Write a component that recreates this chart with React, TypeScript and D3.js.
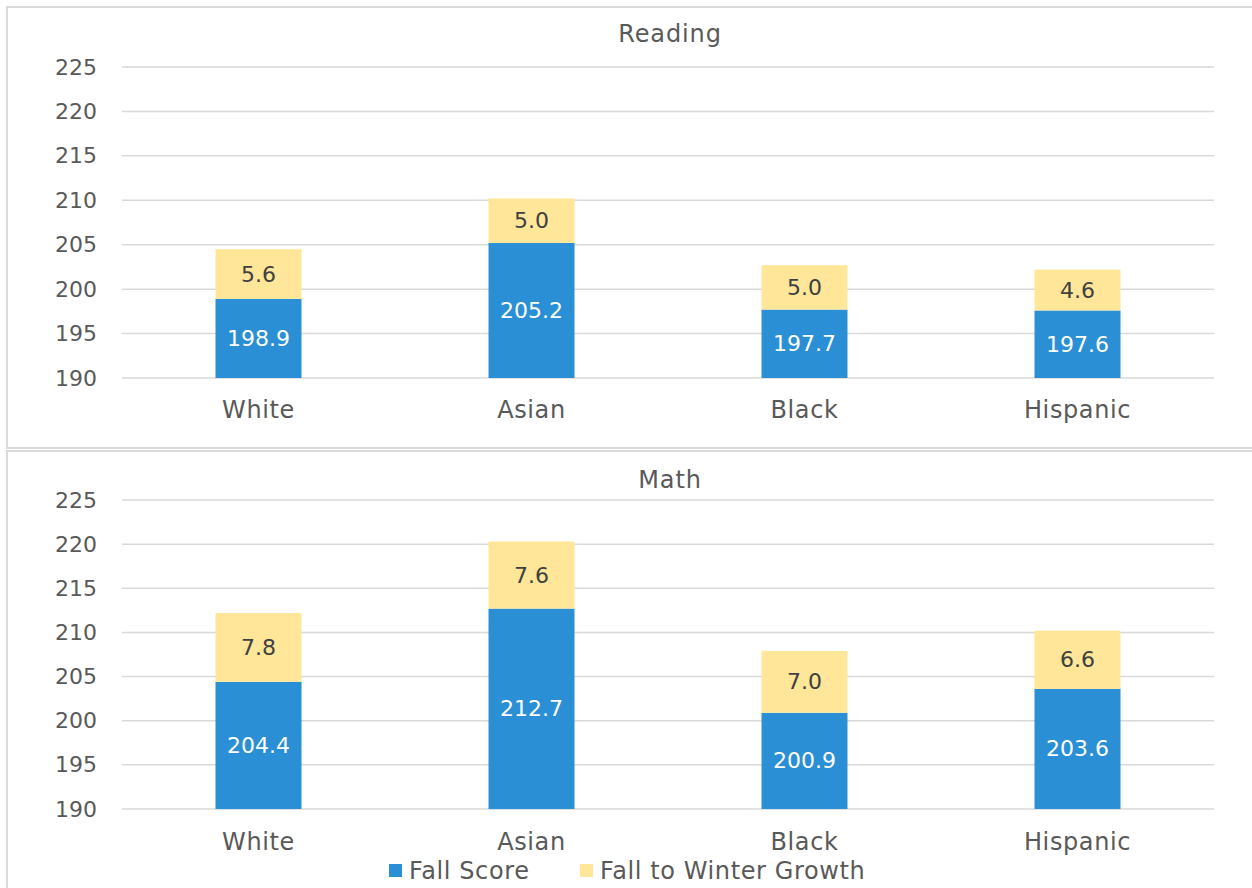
import React from "react";
import * as d3 from "d3";

const groups = ["White", "Asian", "Black", "Hispanic"];
const readingFall = [198.9, 205.2, 197.7, 197.6];
const readingGrowth = [5.6, 5.0, 5.0, 4.6];
const mathFall = [204.4, 212.7, 200.9, 203.6];
const mathGrowth = [7.8, 7.6, 7.0, 6.6];
const yTicks = [190, 195, 200, 205, 210, 215, 220, 225];
const seriesNames = ["Fall Score", "Fall to Winter Growth"];

const W = 1252;
const H = 888;
const BLUE = "#2A8FD4";
const YELLOW = "#FFE699";
const TEXT = "#595959";
const GRID = "#D9D9D9";
const FONT = "'DejaVu Sans', sans-serif";

type PanelProps = {
  title: string;
  fall: number[];
  growth: number[];
  titleY: number;
  yTop: number;
  yBottom: number;
  catY: number;
};

const x = d3.scaleBand<string>().domain(groups).range([122, 1214]).paddingInner(0.685).paddingOuter(0.3425);

function Panel({ title, fall, growth, titleY, yTop, yBottom, catY }: PanelProps) {
  const y = d3.scaleLinear().domain([190, 225]).range([yBottom, yTop]);
  const [x0, x1] = x.range();
  return (
    <g>
      <text x={(x0 + x1) / 2 + 2} y={titleY} textAnchor="middle" dominantBaseline="central" fontSize={24} letterSpacing={0.9} fill={TEXT}>
        {title}
      </text>
      {yTicks.map((t) => (
        <g key={t}>
          <line x1={x0} x2={x1} y1={y(t)} y2={y(t)} stroke={GRID} strokeWidth={1.5} />
          <text x={97} y={y(t)} textAnchor="end" dominantBaseline="central" fontSize={22} fill={TEXT}>
            {t}
          </text>
        </g>
      ))}
      {groups.map((g, i) => {
        const bx = x(g)!;
        const bw = x.bandwidth();
        const f = fall[i];
        const gr = growth[i];
        const top = f + gr;
        return (
          <g key={g}>
            <rect x={bx} width={bw} y={y(f)} height={y(190) - y(f)} fill={BLUE} />
            <rect x={bx} width={bw} y={y(top)} height={y(f) - y(top)} fill={YELLOW} />
            <text x={bx + bw / 2} y={(y(f) + y(190)) / 2} textAnchor="middle" dominantBaseline="central" fontSize={22} fill="#FFFFFF">
              {f.toFixed(1)}
            </text>
            <text x={bx + bw / 2} y={(y(top) + y(f)) / 2} textAnchor="middle" dominantBaseline="central" fontSize={22} fill="#404040">
              {gr.toFixed(1)}
            </text>
            <text x={bx + bw / 2} y={catY} textAnchor="middle" dominantBaseline="central" fontSize={24} letterSpacing={0.6} fill={TEXT}>
              {g}
            </text>
          </g>
        );
      })}
    </g>
  );
}

export default function App() {
  const legendColors = [BLUE, YELLOW];
  const legendX = [389, 580];
  return (
    <svg
      width={W}
      height={H}
      style={{ position: "absolute", left: 0, top: 0, background: "#fff" }}
      fontFamily={FONT}
    >
      <rect x={7} y={7} width={W + 10} height={441} fill="#fff" stroke={GRID} strokeWidth={2} />
      <rect x={7} y={451} width={W + 10} height={H} fill="#fff" stroke={GRID} strokeWidth={2} />
      <Panel title="Reading" fall={readingFall} growth={readingGrowth} titleY={34} yTop={67} yBottom={378} catY={410} />
      <Panel title="Math" fall={mathFall} growth={mathGrowth} titleY={480} yTop={500} yBottom={809} catY={842} />
      {seriesNames.map((s, i) => (
        <g key={s}>
          <rect x={legendX[i]} y={864} width={13} height={13} fill={legendColors[i]} />
          <text x={legendX[i] + 20} y={871} dominantBaseline="central" fontSize={24} letterSpacing={0.6} fill={TEXT}>
            {s}
          </text>
        </g>
      ))}
    </svg>
  );
}
